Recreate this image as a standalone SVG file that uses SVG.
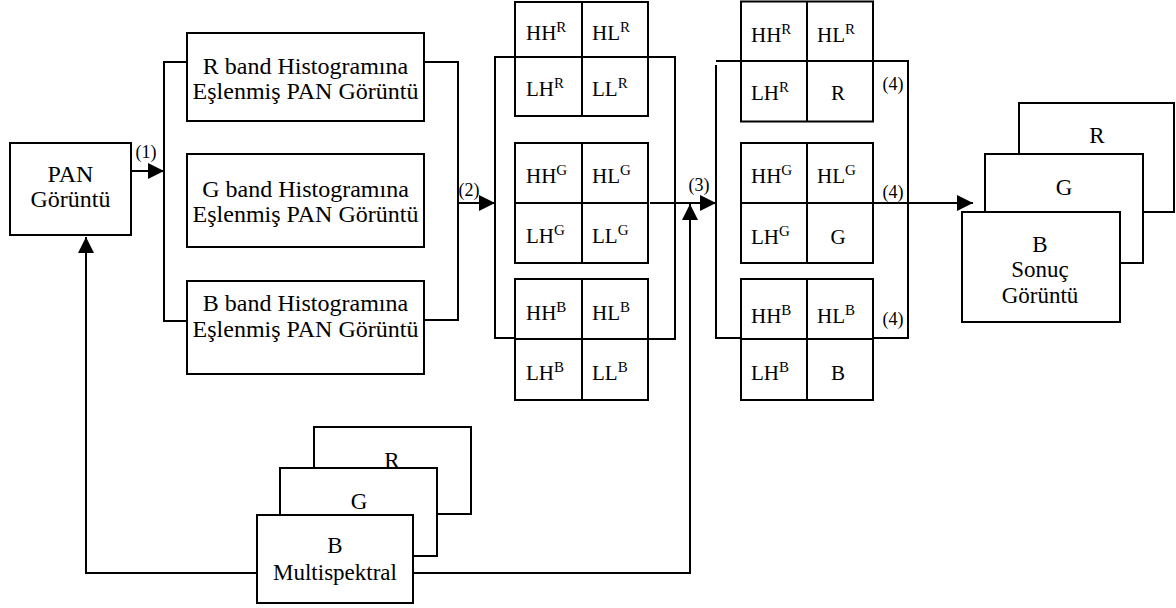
<svg xmlns="http://www.w3.org/2000/svg" width="1176" height="608" viewBox="0 0 1176 608">
  <style>
    .box { fill: #fff; stroke: #000; stroke-width: 2; }
    .ln { fill: none; stroke: #000; stroke-width: 2; }
    .t { font-family: "Liberation Serif", "Times New Roman", serif; font-size: 24px; fill: #000; }
    .tc { text-anchor: middle; }
    .cell { font-family: "Liberation Serif", "Times New Roman", serif; font-size: 21px; fill: #000; }
    .sup { font-size: 15px; }
    .lbl { font-family: "Liberation Serif", "Times New Roman", serif; font-size: 18px; fill: #000; text-anchor: middle; }
    .st { font-family: "Liberation Serif", "Times New Roman", serif; font-size: 23px; fill: #000; text-anchor: middle; }
  </style>
  <defs>
    <marker id="arrow" markerUnits="userSpaceOnUse" markerWidth="16" markerHeight="16" refX="16" refY="8" orient="auto">
      <path d="M0,0 L16,8 L0,16 z" fill="#000"/>
    </marker>
  </defs>
  <rect width="1176" height="608" fill="#fff"/>

  <!-- connectors -->
  <g id="connectors">
    <!-- (1) PAN to histogram matching -->
    <line class="ln" x1="131" y1="171" x2="164" y2="171" marker-end="url(#arrow)"/>
    <path class="ln" d="M187,62 H164 V321 H187"/>
    <path class="ln" d="M424,62 H458 V320 H423"/>
    <!-- (2) to wavelet decomposition -->
    <line class="ln" x1="458" y1="203" x2="495" y2="203" marker-end="url(#arrow)"/>
    <path class="ln" d="M522,57 H495 V338 H522"/>
    <path class="ln" d="M648,57 H675 V339 H648"/>
    <!-- (3) to band replacement -->
    <line class="ln" x1="650" y1="203" x2="716" y2="203" marker-end="url(#arrow)"/>
    <path class="ln" d="M716,65 V338 H752"/>
    <path class="ln" d="M716,61 H908 V338 H873"/>
    <!-- (4) to result -->
    <line class="ln" x1="873" y1="203" x2="973" y2="203" marker-end="url(#arrow)"/>
    <!-- multispectral feedback lines -->
    <path class="ln" d="M257,573 H86 V237" marker-end="url(#arrow)"/>
    <path class="ln" d="M413,573 H690 V204" marker-end="url(#arrow)"/>
    <text class="lbl" x="146" y="158">(1)</text>
    <text class="lbl" x="469" y="196">(2)</text>
    <text class="lbl" x="699" y="191">(3)</text>
    <text class="lbl" x="893" y="90">(4)</text>
    <text class="lbl" x="893" y="198">(4)</text>
    <text class="lbl" x="893" y="325">(4)</text>
  </g>

  <!-- PAN image -->
  <g id="pan">
    <rect class="box" x="10" y="143" width="121" height="92"/>
    <text class="t tc" x="70.5" y="182">PAN</text>
    <text class="t tc" x="70.5" y="207">Görüntü</text>
  </g>

  <!-- histogram matched PAN images -->
  <g id="hist-r">
    <rect class="box" x="187" y="33" width="237" height="88"/>
    <text class="t tc" x="305.5" y="74">R band Histogramına</text>
    <text class="t tc" x="305.5" y="99">Eşlenmiş PAN Görüntü</text>
  </g>
  <g id="hist-g">
    <rect class="box" x="187" y="154" width="237" height="93"/>
    <text class="t tc" x="305.5" y="197">G band Histogramına</text>
    <text class="t tc" x="305.5" y="222">Eşlenmiş PAN Görüntü</text>
  </g>
  <g id="hist-b">
    <rect class="box" x="187" y="281" width="237" height="93"/>
    <text class="t tc" x="305.5" y="311">B band Histogramına</text>
    <text class="t tc" x="305.5" y="337">Eşlenmiş PAN Görüntü</text>
  </g>

  <!-- wavelet sub-bands -->
  <g id="dwt-r">
    <rect class="box" x="515" y="2" width="133" height="114"/>
    <path class="ln" d="M582,2 V116 M515,57 H648"/>
    <text class="cell" x="526" y="40">HH<tspan class="sup" dy="-8">R</tspan></text>
    <text class="cell" x="592" y="40">HL<tspan class="sup" dy="-8">R</tspan></text>
    <text class="cell" x="526" y="96">LH<tspan class="sup" dy="-8">R</tspan></text>
    <text class="cell" x="592" y="96">LL<tspan class="sup" dy="-8">R</tspan></text>
  </g>
  <g id="dwt-g">
    <rect class="box" x="515" y="143" width="133" height="120"/>
    <path class="ln" d="M582,143 V263 M515,203 H648"/>
    <text class="cell" x="526" y="183">HH<tspan class="sup" dy="-8">G</tspan></text>
    <text class="cell" x="592" y="183">HL<tspan class="sup" dy="-8">G</tspan></text>
    <text class="cell" x="526" y="243">LH<tspan class="sup" dy="-8">G</tspan></text>
    <text class="cell" x="592" y="243">LL<tspan class="sup" dy="-8">G</tspan></text>
  </g>
  <g id="dwt-b">
    <rect class="box" x="515" y="279" width="133" height="121"/>
    <path class="ln" d="M582,279 V400 M515,339 H648"/>
    <text class="cell" x="526" y="320">HH<tspan class="sup" dy="-8">B</tspan></text>
    <text class="cell" x="592" y="320">HL<tspan class="sup" dy="-8">B</tspan></text>
    <text class="cell" x="526" y="380">LH<tspan class="sup" dy="-8">B</tspan></text>
    <text class="cell" x="592" y="380">LL<tspan class="sup" dy="-8">B</tspan></text>
  </g>

  <!-- sub-bands with LL replaced by multispectral bands -->
  <g id="rep-r">
    <rect class="box" x="741" y="1.5" width="132" height="120"/>
    <path class="ln" d="M807,1.5 V121.5 M741,61 H873"/>
    <text class="cell" x="751" y="42">HH<tspan class="sup" dy="-8">R</tspan></text>
    <text class="cell" x="817" y="42">HL<tspan class="sup" dy="-8">R</tspan></text>
    <text class="cell" x="751" y="100">LH<tspan class="sup" dy="-8">R</tspan></text>
    <text class="cell" x="838" y="100" text-anchor="middle">R</text>
  </g>
  <g id="rep-g">
    <rect class="box" x="741" y="143" width="132" height="120"/>
    <path class="ln" d="M807,143 V263 M741,203 H873"/>
    <text class="cell" x="751" y="183">HH<tspan class="sup" dy="-8">G</tspan></text>
    <text class="cell" x="817" y="183">HL<tspan class="sup" dy="-8">G</tspan></text>
    <text class="cell" x="751" y="244">LH<tspan class="sup" dy="-8">G</tspan></text>
    <text class="cell" x="838" y="244" text-anchor="middle">G</text>
  </g>
  <g id="rep-b">
    <rect class="box" x="741" y="279" width="132" height="121"/>
    <path class="ln" d="M807,279 V400 M741,339 H873"/>
    <text class="cell" x="751" y="323">HH<tspan class="sup" dy="-8">B</tspan></text>
    <text class="cell" x="817" y="323">HL<tspan class="sup" dy="-8">B</tspan></text>
    <text class="cell" x="751" y="380">LH<tspan class="sup" dy="-8">B</tspan></text>
    <text class="cell" x="838" y="380" text-anchor="middle">B</text>
  </g>

  <!-- fused result stack -->
  <g id="result">
    <rect class="box" x="1019" y="103" width="155" height="109"/>
    <text class="st" x="1097" y="143">R</text>
    <rect class="box" x="985" y="154" width="158" height="109"/>
    <text class="st" x="1064" y="195">G</text>
    <rect class="box" x="962" y="212" width="158" height="110"/>
    <text class="st" x="1040" y="252">B</text>
    <text class="st" x="1040" y="277">Sonuç</text>
    <text class="st" x="1040" y="303">Görüntü</text>
  </g>

  <!-- multispectral image stack -->
  <g id="multispectral">
    <rect class="box" x="314" y="427" width="157" height="87"/>
    <text class="st" x="392" y="468">R</text>
    <rect class="box" x="280" y="468" width="157" height="88"/>
    <text class="st" x="359" y="509">G</text>
    <rect class="box" x="257" y="515" width="156" height="88"/>
    <text class="st" x="335" y="553">B</text>
    <text class="st" x="335" y="580">Multispektral</text>
  </g>
</svg>
